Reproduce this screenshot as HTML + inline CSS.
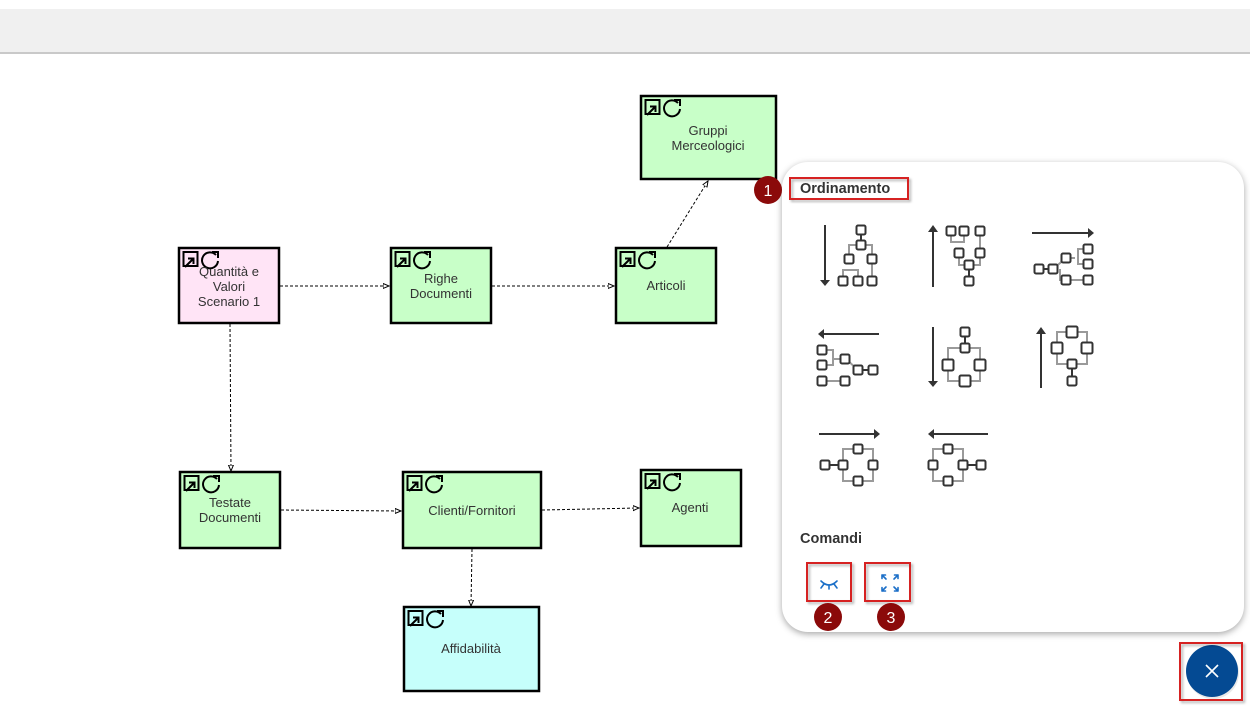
<!DOCTYPE html>
<html><head><meta charset="utf-8"><style>
html,body{margin:0;padding:0;background:#fff;width:1250px;height:728px;overflow:hidden;position:relative;font-family:"Liberation Sans",Arial,sans-serif;}
#topbar{position:absolute;left:0;top:9px;width:1250px;height:43px;background:#f0f0f0;border-bottom:2px solid #c9c9c9;}
#panel{position:absolute;left:782px;top:162px;width:462px;height:470px;background:#fff;border-radius:26px;box-shadow:0 2px 7px rgba(0,0,0,0.35);}
svg{position:absolute;left:0;top:0;}
</style></head><body>
<div id="topbar"></div>
<div id="panel"></div>
<svg width="1250" height="728" viewBox="0 0 1250 728" xmlns="http://www.w3.org/2000/svg">
<defs>
<filter id="sh" x="-20%" y="-20%" width="140%" height="140%">
<feDropShadow dx="2" dy="2" stdDeviation="1.2" flood-color="#000" flood-opacity="0.3"/>
</filter>
<marker id="ah" markerWidth="8" markerHeight="8" refX="6" refY="3" orient="auto" markerUnits="userSpaceOnUse">
<path d="M0,0.5 L6,3 L0,5.5 Z" fill="#fff" stroke="#000" stroke-width="1"/>
</marker>
<g id="nicon">
<rect x="1.5" y="2" width="14" height="14" fill="none" stroke="#000" stroke-width="2"/>
<path d="M3,17 L11,9" stroke="#000" stroke-width="2"/>
<path d="M6,8.5 L11.5,8.5 L11.5,14" fill="none" stroke="#000" stroke-width="2"/>
<path d="M34,5 A8,8 0 1 0 36,11" fill="none" stroke="#000" stroke-width="2"/>
<path d="M30,2 L36,2 L36,8" fill="none" stroke="#000" stroke-width="2"/>
</g>
<g id="sq"><rect x="-4.5" y="-4.5" width="9" height="9" rx="1.5" fill="#fff" stroke="#333" stroke-width="2"/></g>
<g id="sqb"><rect x="-5.5" y="-5.5" width="11" height="11" rx="1.5" fill="#fff" stroke="#333" stroke-width="2"/></g>
</defs>

<!-- connectors -->
<g stroke="#000" stroke-width="1" stroke-dasharray="3,2" fill="none">
<line x1="280" y1="286" x2="389" y2="286" marker-end="url(#ah)"/>
<line x1="492" y1="286" x2="614" y2="286" marker-end="url(#ah)"/>
<line x1="667" y1="247" x2="708" y2="181" marker-end="url(#ah)"/>
<line x1="230" y1="324" x2="231" y2="471" marker-end="url(#ah)"/>
<line x1="281" y1="510" x2="401" y2="511" marker-end="url(#ah)"/>
<line x1="542" y1="510" x2="639" y2="508" marker-end="url(#ah)"/>
<line x1="472" y1="549" x2="471" y2="606" marker-end="url(#ah)"/>
</g>

<!-- nodes -->
<g stroke="#000" stroke-width="2.5">
<rect x="179" y="248" width="100" height="75" fill="#ffe4f6"/>
<rect x="391" y="248" width="100" height="75" fill="#c8ffc8"/>
<rect x="616" y="248" width="100" height="75" fill="#c8ffc8"/>
<rect x="641" y="96" width="135" height="83" fill="#c8ffc8"/>
<rect x="180" y="472" width="100" height="76" fill="#c8ffc8"/>
<rect x="403" y="472" width="138" height="76" fill="#c8ffc8"/>
<rect x="641" y="470" width="100" height="76" fill="#c8ffc8"/>
<rect x="404" y="607" width="135" height="84" fill="#c6fffb"/>
</g>
<use href="#nicon" x="182" y="250"/>
<use href="#nicon" x="394" y="250"/>
<use href="#nicon" x="619" y="250"/>
<use href="#nicon" x="644" y="98"/>
<use href="#nicon" x="183" y="474"/>
<use href="#nicon" x="406" y="474"/>
<use href="#nicon" x="644" y="472"/>
<use href="#nicon" x="407" y="609"/>

<g font-family="Liberation Sans, Arial, sans-serif" font-size="13" fill="#333" text-anchor="middle">
<text x="229" y="276">Quantità e</text>
<text x="229" y="291">Valori</text>
<text x="229" y="306">Scenario 1</text>
<text x="441" y="283">Righe</text>
<text x="441" y="298">Documenti</text>
<text x="666" y="290">Articoli</text>
<text x="708" y="135">Gruppi</text>
<text x="708" y="150">Merceologici</text>
<text x="230" y="507">Testate</text>
<text x="230" y="522">Documenti</text>
<text x="472" y="515">Clienti/Fornitori</text>
<text x="690" y="512">Agenti</text>
<text x="471" y="653">Affidabilità</text>
</g>

<!-- panel content -->
<g font-family="Liberation Sans, Arial, sans-serif" font-weight="bold" fill="#333">
<text x="800" y="193" font-size="14.5">Ordinamento</text>
<text x="800" y="543" font-size="14.5">Comandi</text>
</g>
<rect x="790" y="178" width="118" height="21" fill="none" stroke="#d62020" stroke-width="2" filter="url(#sh)"/>

<!-- layout icons -->
<g stroke="#333" stroke-width="2" fill="#333">
<line x1="825" y1="225" x2="825" y2="281"/><path d="M820,280 L830,280 L825,286 Z" stroke="none"/>
<line x1="933" y1="231" x2="933" y2="287"/><path d="M928,232 L938,232 L933,225 Z" stroke="none"/>
<line x1="1032" y1="233" x2="1089" y2="233"/><path d="M1088,228 L1088,238 L1094,233 Z" stroke="none"/>
<line x1="823" y1="334" x2="879" y2="334"/><path d="M824,329 L824,339 L818,334 Z" stroke="none"/>
<line x1="933" y1="327" x2="933" y2="382"/><path d="M928,381 L938,381 L933,387 Z" stroke="none"/>
<line x1="1041" y1="333" x2="1041" y2="388"/><path d="M1036,334 L1046,334 L1041,327 Z" stroke="none"/>
<line x1="819" y1="434" x2="875" y2="434"/><path d="M874,429 L874,439 L880,434 Z" stroke="none"/>
<line x1="933" y1="434" x2="988" y2="434"/><path d="M934,429 L934,439 L928,434 Z" stroke="none"/>
</g>
<g stroke="#9a9a9a" stroke-width="2" fill="none">
<path d="M849,259 L849,245 L872,245 L872,281"/>
<path d="M843,281 L843,270 L858,270 L858,281"/>
<path d="M951,231 L951,242 L964,242 L964,231"/>
<path d="M980,231 L980,253"/>
<path d="M959,253 L959,265 L980,265 L980,253"/>
<path d="M1053,269 L1066,258 L1075,258"/>
<path d="M1060,269 L1060,280 L1088,280"/>
<path d="M1078,258 L1078,249 L1088,249 M1078,258 L1078,264 L1088,264"/>
<path d="M822,350 L833,350 L833,365 L822,365"/>
<path d="M833,359 L846,359 L858,370"/>
<path d="M822,381 L845,381"/>
<path d="M965,348 L948,348 L948,381 L980,381 L980,348 Z"/>
<path d="M1057,332 L1087,332 L1087,364 L1057,364 Z"/>
<path d="M843,449 L873,449 L873,481 L843,481 Z"/>
<path d="M933,449 L963,449 L963,481 L933,481 Z"/>
</g>
<g stroke="#333" stroke-width="2">
<line x1="861" y1="230" x2="861" y2="245"/>
<line x1="969" y1="265" x2="969" y2="281"/>
<line x1="1039" y1="269" x2="1053" y2="269"/>
<line x1="858" y1="370" x2="873" y2="370"/>
<line x1="965" y1="332" x2="965" y2="348"/>
<line x1="1072" y1="364" x2="1072" y2="381"/>
<line x1="825" y1="465" x2="843" y2="465"/>
<line x1="963" y1="465" x2="981" y2="465"/>
</g>
<use href="#sq" x="861" y="230"/><use href="#sq" x="861" y="245"/><use href="#sq" x="849" y="259"/><use href="#sq" x="872" y="259"/>
<use href="#sq" x="843" y="281"/><use href="#sq" x="858" y="281"/><use href="#sq" x="872" y="281"/>
<use href="#sq" x="951" y="231"/><use href="#sq" x="964" y="231"/><use href="#sq" x="980" y="231"/>
<use href="#sq" x="959" y="253"/><use href="#sq" x="980" y="253"/><use href="#sq" x="969" y="265"/><use href="#sq" x="969" y="281"/>
<use href="#sq" x="1039" y="269"/><use href="#sq" x="1053" y="269"/><use href="#sq" x="1066" y="258"/>
<use href="#sq" x="1088" y="249"/><use href="#sq" x="1088" y="264"/><use href="#sq" x="1066" y="280"/><use href="#sq" x="1088" y="280"/>
<use href="#sq" x="822" y="350"/><use href="#sq" x="822" y="365"/><use href="#sq" x="822" y="381"/>
<use href="#sq" x="845" y="359"/><use href="#sq" x="858" y="370"/><use href="#sq" x="873" y="370"/><use href="#sq" x="845" y="381"/>
<use href="#sq" x="965" y="332"/><use href="#sq" x="965" y="348"/><use href="#sqb" x="948" y="365"/><use href="#sqb" x="980" y="365"/><use href="#sqb" x="965" y="381"/>
<use href="#sqb" x="1072" y="332"/><use href="#sqb" x="1057" y="348"/><use href="#sqb" x="1087" y="348"/><use href="#sq" x="1072" y="364"/><use href="#sq" x="1072" y="381"/>
<use href="#sq" x="825" y="465"/><use href="#sq" x="843" y="465"/><use href="#sq" x="858" y="449"/><use href="#sq" x="873" y="465"/><use href="#sq" x="858" y="481"/>
<use href="#sq" x="933" y="465"/><use href="#sq" x="948" y="449"/><use href="#sq" x="963" y="465"/><use href="#sq" x="981" y="465"/><use href="#sq" x="948" y="481"/>

<!-- comandi buttons -->
<rect x="807" y="563" width="44" height="38" fill="none" stroke="#d62020" stroke-width="2" filter="url(#sh)"/>
<rect x="865" y="563" width="45" height="38" fill="none" stroke="#d62020" stroke-width="2" filter="url(#sh)"/>
<g stroke="#1b6fc8" stroke-width="1.6" fill="none" stroke-linecap="round">
<path d="M821,581 Q829,589 837,581"/>
<path d="M824,584 L821,588 M829,585.5 L829,589 M834,584 L837,588"/>
<path d="M882,575 L886,579 M882,575 L882,578.5 M882,575 L885.5,575"/>
<path d="M898,575 L894,579 M898,575 L898,578.5 M898,575 L894.5,575"/>
<path d="M882,591 L886,587 M882,591 L882,587.5 M882,591 L885.5,591"/>
<path d="M898,591 L894,587 M898,591 L898,587.5 M898,591 L894.5,591"/>
</g>

<!-- badges -->
<g fill="#8b0a0a">
<circle cx="768" cy="190" r="14"/>
<circle cx="828" cy="617" r="14"/>
<circle cx="891" cy="617" r="14"/>
</g>
<g font-family="Liberation Sans, Arial, sans-serif" font-size="16" fill="#fff" text-anchor="middle">
<text x="768" y="196">1</text>
<text x="828" y="623">2</text>
<text x="891" y="623">3</text>
</g>

<!-- close button -->
<circle cx="1213" cy="673" r="26" fill="#c0c0c0" opacity="0.35"/>
<circle cx="1212" cy="671" r="26" fill="#044a93"/>
<path d="M1206,665 L1218,677 M1218,665 L1206,677" stroke="#fff" stroke-width="1.6"/>
<rect x="1180" y="643" width="62" height="57" fill="none" stroke="#d62020" stroke-width="2" filter="url(#sh)"/>
</svg>
</body></html>
